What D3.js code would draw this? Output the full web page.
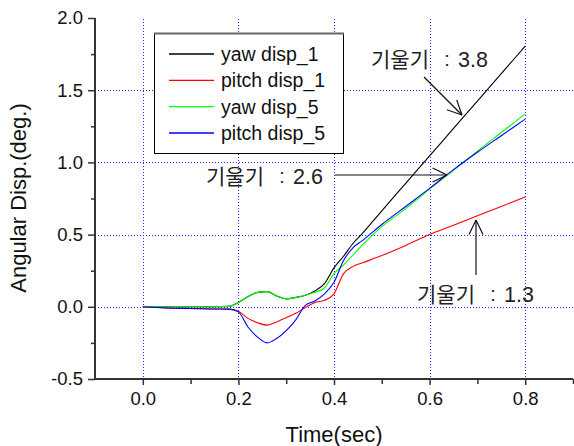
<!DOCTYPE html>
<html>
<head>
<meta charset="utf-8">
<script src="https://cdn.jsdelivr.net/npm/d3@7"></script>
<style>
body { margin: 0; background: #fff; }
svg { display: block; font-family: "Liberation Sans", Arial, sans-serif; }
</style>
</head>
<body>
<svg id="chart" width="574" height="446"></svg>
<script>
// time axis (sec), shared by every series
var time = [0, 0.05, 0.1, 0.15, 0.18, 0.2, 0.22, 0.24, 0.26, 0.28, 0.3, 0.32, 0.34,
	0.36, 0.38, 0.4, 0.42, 0.44, 0.46, 0.5, 0.55, 0.6, 0.65, 0.7, 0.75, 0.8];

// angular displacement (deg.)
var yawDisp1 = [0, 0, 0, 0, 0.003, 0.03, 0.07, 0.10, 0.105, 0.075, 0.055, 0.065, 0.08,
	0.11, 0.16, 0.27, 0.35, 0.44, 0.51, 0.665, 0.855, 1.045, 1.235, 1.425, 1.615, 1.805];
var pitchDisp1 = [0, -0.008, -0.012, -0.015, -0.016, -0.03, -0.08, -0.11, -0.127, -0.105, -0.075, -0.045, -0.005,
	0.03, 0.045, 0.09, 0.23, 0.28, 0.305, 0.355, 0.425, 0.50, 0.565, 0.63, 0.695, 0.76];
var yawDisp5 = [0, 0, 0, 0, 0.003, 0.03, 0.07, 0.10, 0.105, 0.075, 0.055, 0.065, 0.08,
	0.10, 0.13, 0.23, 0.29, 0.36, 0.43, 0.555, 0.68, 0.815, 0.945, 1.078, 1.207, 1.336];
var pitchDisp5 = [0, -0.008, -0.012, -0.015, -0.016, -0.035, -0.14, -0.21, -0.25, -0.22, -0.165, -0.09, 0.01,
	0.04, 0.09, 0.17, 0.32, 0.41, 0.46, 0.57, 0.695, 0.82, 0.95, 1.07, 1.185, 1.30];

var seriesNames = ["yaw disp_1", "pitch disp_1", "yaw disp_5", "pitch disp_5"];
var seriesValues = [yawDisp1, pitchDisp1, yawDisp5, pitchDisp5];
var seriesColors = ["#000000", "#ff0000", "#00ff00", "#0000ff"];

var xMajor = [0, 0.2, 0.4, 0.6, 0.8];
var xMinor = [0.1, 0.3, 0.5, 0.7, 0.9];
var yMajor = [-0.5, 0, 0.5, 1.0, 1.5, 2.0];
var yMinor = [-0.25, 0.25, 0.75, 1.25, 1.75];
var yGrid = [0, 0.5, 1.0, 1.5];

// slope notes
var noteWord = "기울기";
var noteSlopes = ["3.8", "2.6", "1.3"];

var svg = d3.select("#chart");

var x = d3.scaleLinear().domain([-0.1, 0.9]).range([95, 573]);
var y = d3.scaleLinear().domain([-0.5, 2.0]).range([379, 18]);

// grid
var grid = svg.append("g")
	.attr("stroke", "#2222ff")
	.attr("stroke-width", 1)
	.attr("stroke-dasharray", "1,2");
grid.selectAll("line.v")
	.data(xMajor)
	.enter()
	.append("line")
	.attr("x1", function(d){ return Math.round(x(d)) + 0.5; })
	.attr("x2", function(d){ return Math.round(x(d)) + 0.5; })
	.attr("y1", 19)
	.attr("y2", 379);
grid.selectAll("line.h")
	.data(yGrid)
	.enter()
	.append("line")
	.attr("x1", 95)
	.attr("x2", 573)
	.attr("y1", function(d){ return Math.round(y(d)) + 0.5; })
	.attr("y2", function(d){ return Math.round(y(d)) + 0.5; });

// curves
var line = d3.line()
	.x(function(d){ return x(d[0]); })
	.y(function(d){ return y(d[1]); })
	.curve(d3.curveMonotoneX);

seriesValues.forEach(function(vals, i){
	svg.append("path")
		.datum(time.map(function(t, j){ return [t, vals[j]]; }))
		.attr("fill", "none")
		.attr("stroke", seriesColors[i])
		.attr("stroke-width", 1.1)
		.attr("d", line);
});

// axes
var fmt = function(d){ return d.toFixed(1); };

var xAxis = svg.append("g")
	.attr("transform", "translate(0,379)")
	.call(d3.axisBottom(x).tickValues(xMajor).tickSize(6).tickPadding(7).tickFormat(fmt));
svg.append("g")
	.attr("transform", "translate(0,379)")
	.call(d3.axisBottom(x).tickValues(xMinor).tickSize(5).tickFormat(""))
	.select(".domain").remove();

var yAxis = svg.append("g")
	.attr("transform", "translate(95,0)")
	.call(d3.axisLeft(y).tickValues(yMajor).tickSize(7).tickPadding(5).tickFormat(fmt));
svg.append("g")
	.attr("transform", "translate(95,0)")
	.call(d3.axisLeft(y).tickValues(yMinor).tickSize(4).tickFormat(""))
	.select(".domain").remove();

svg.selectAll(".domain")
	.attr("stroke", "#333")
	.attr("stroke-width", 2)
	.attr("d", null);
xAxis.select(".domain").attr("d", "M95,0H573");
yAxis.select(".domain").attr("d", "M0,18V380");
svg.selectAll(".tick line").attr("stroke", "#333").attr("stroke-width", 1.5);
svg.selectAll(".tick text")
	.attr("font-family", "Liberation Sans, Arial, sans-serif")
	.attr("font-size", 18.5)
	.attr("fill", "#111");

// axis titles
svg.append("text")
	.attr("x", 334)
	.attr("y", 442)
	.attr("text-anchor", "middle")
	.attr("font-size", 22)
	.attr("fill", "#111")
	.text("Time(sec)");
svg.append("text")
	.attr("transform", "translate(26,198) rotate(-90)")
	.attr("text-anchor", "middle")
	.attr("font-size", 22)
	.attr("fill", "#111")
	.text("Angular Disp.(deg.)");

// legend
var legend = svg.append("g");
legend.append("rect")
	.attr("x", 154.5)
	.attr("y", 33.5)
	.attr("width", 189)
	.attr("height", 120)
	.attr("fill", "#fff")
	.attr("stroke", "#000")
	.attr("stroke-width", 1);
legend.append("line")
	.attr("x1", 154).attr("x2", 344)
	.attr("y1", 33.5).attr("y2", 33.5)
	.attr("stroke", "#666").attr("stroke-width", 2);
var rowY = d3.scalePoint().domain(seriesNames).range([54, 133]);
seriesNames.forEach(function(name, i){
	legend.append("line")
		.attr("x1", 169).attr("x2", 214)
		.attr("y1", rowY(name)).attr("y2", rowY(name))
		.attr("stroke", seriesColors[i])
		.attr("stroke-width", 1.3);
	legend.append("text")
		.attr("x", 221)
		.attr("y", rowY(name) + 7)
		.attr("font-size", 19.5)
		.attr("fill", "#111")
		.text(name);
});

// slope annotations
var notes = [
	{ tx: 371, ty: 67, from: [424, 77], to: [462, 115] },
	{ tx: 206, ty: 184, from: [335, 175], to: [447, 175] },
	{ tx: 417, ty: 302, from: [476, 275], to: [476, 220] }
];
notes.forEach(function(n, i){
	var g = svg.append("g").attr("fill", "#222");
	g.append("text")
		.attr("x", n.tx)
		.attr("y", n.ty)
		.attr("font-family", "Noto Sans CJK KR, sans-serif")
		.attr("font-size", 21)
		.attr("textLength", 58)
		.attr("lengthAdjust", "spacingAndGlyphs")
		.text(noteWord);
	g.append("text")
		.attr("x", n.tx + 76)
		.attr("y", n.ty - 1)
		.attr("text-anchor", "middle")
		.attr("font-size", 20)
		.text(":");
	g.append("text")
		.attr("x", n.tx + 87)
		.attr("y", n.ty)
		.attr("font-size", 21.5)
		.text(noteSlopes[i]);
	svg.append("line")
		.attr("x1", n.from[0]).attr("y1", n.from[1])
		.attr("x2", n.to[0]).attr("y2", n.to[1])
		.attr("stroke", "#111").attr("stroke-width", 1.2);
	var ang = Math.atan2(n.to[1] - n.from[1], n.to[0] - n.from[0]);
	[-0.45, 0.45].forEach(function(a){
		svg.append("line")
			.attr("x1", n.to[0]).attr("y1", n.to[1])
			.attr("x2", n.to[0] - 16 * Math.cos(ang + a))
			.attr("y2", n.to[1] - 16 * Math.sin(ang + a))
			.attr("stroke", "#111").attr("stroke-width", 1.2);
	});
});
</script>
</body>
</html>
